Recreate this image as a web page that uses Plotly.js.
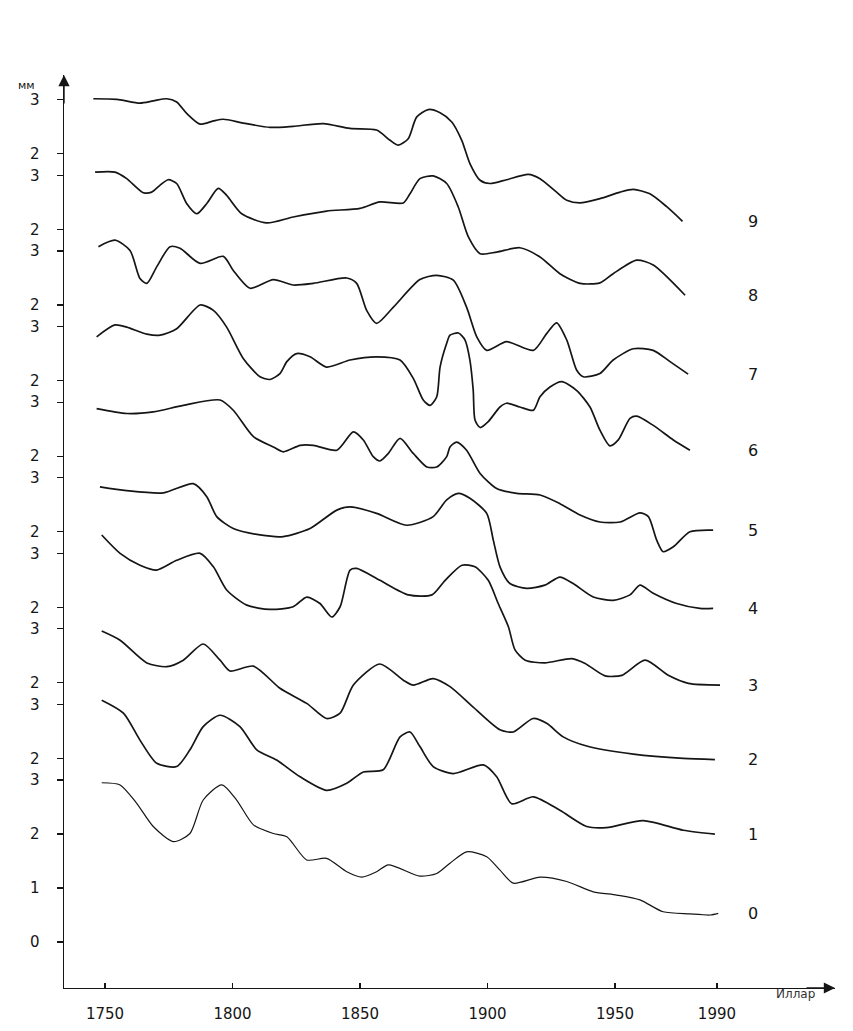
<!DOCTYPE html>
<html><head><meta charset="utf-8">
<script src="https://cdn.plot.ly/plotly-3.0.1.min.js"></script>
<style>html,body{margin:0;padding:0;background:#fff}#chart{width:853px;height:1031px}</style>
</head><body><div id="chart"></div>
<script>
// ---- data (years, values in мм, each curve in its own local scale) ----
const curveLabels = ['0','1','2','3','4','5','6','7','8','9'];
const xTickVals = [1750, 1800, 1850, 1900, 1950, 1990];
const xTickText = ['1750', '1800', '1850', '1900', '1950', '1990'];
const yTicksBottom = [0, 1, 2, 3];
const yTicksOther = [2, 3];
const yUnit = 'мм';
const xUnit = 'Иллар';

const years9 = [1745.4,1754.6,1763.7,1768.9,1774.2,1778.1,1782.0,1787.3,1792.5,1796.4,1804.2,1814.7,1823.8,1835.6,1846.1,1856.5,1861.8,1865.0,1868.9,1872.2,1876.8,1881.4,1886.0,1889.9,1893.1,1897.1,1901.0,1907.5,1916.0,1920.6,1927.1,1931.1,1936.3,1944.1,1952.0,1957.2,1963.7,1970.3,1976.5];
const vals9 = [3.02,3.01,2.94,2.98,3.02,2.96,2.75,2.55,2.61,2.64,2.57,2.49,2.51,2.56,2.47,2.44,2.25,2.16,2.28,2.68,2.82,2.76,2.59,2.25,1.82,1.51,1.45,1.52,1.62,1.54,1.29,1.14,1.09,1.17,1.29,1.34,1.26,1.02,0.75];

const years8 = [1746.1,1753.9,1758.5,1765.0,1768.3,1771.6,1774.8,1778.1,1782.0,1786.0,1789.9,1794.4,1797.7,1803.6,1813.4,1823.8,1836.9,1850.0,1857.8,1867.0,1869.6,1873.5,1878.7,1884.0,1888.5,1892.5,1897.1,1903.6,1912.7,1920.6,1928.4,1936.3,1944.1,1949.3,1958.5,1965.0,1977.5];
const vals8 = [3.06,3.06,2.94,2.68,2.69,2.82,2.92,2.85,2.48,2.29,2.48,2.76,2.63,2.29,2.12,2.23,2.34,2.39,2.51,2.49,2.66,2.94,2.99,2.85,2.42,1.86,1.55,1.58,1.66,1.49,1.18,1.00,1.01,1.18,1.43,1.34,0.78];

const years7 = [1747.4,1753.9,1759.8,1763.7,1766.4,1770.3,1775.5,1779.4,1787.3,1796.4,1800.3,1806.9,1816.0,1823.8,1831.7,1844.8,1848.7,1852.6,1856.5,1863.1,1873.5,1880.1,1886.6,1891.8,1895.8,1899.7,1907.5,1918.0,1923.2,1927.1,1931.1,1935.0,1937.6,1944.1,1949.3,1957.2,1965.0,1971.6,1978.7];
const vals7 = [3.08,3.20,3.01,2.49,2.40,2.71,3.08,3.05,2.77,2.90,2.64,2.31,2.47,2.37,2.40,2.50,2.40,1.90,1.66,1.96,2.47,2.55,2.46,1.96,1.41,1.16,1.32,1.16,1.47,1.67,1.35,0.79,0.67,0.73,0.98,1.19,1.16,0.95,0.72];

const years6 = [1746.7,1753.9,1758.5,1766.4,1771.6,1778.1,1787.3,1792.5,1797.7,1804.2,1810.8,1814.7,1818.6,1821.3,1825.2,1830.4,1836.9,1846.1,1856.5,1865.7,1870.9,1874.8,1877.5,1880.1,1881.4,1884.0,1885.3,1888.6,1891.2,1893.1,1894.4,1895.1,1897.1,1900.3,1904.9,1907.5,1912.7,1918.0,1920.6,1924.5,1929.1,1934.9,1940.2,1944.1,1948.0,1951.3,1955.9,1958.5,1965.0,1972.9,1979.4];
const vals6 = [2.81,3.03,2.99,2.86,2.84,2.96,3.40,3.30,2.99,2.41,2.07,2.02,2.13,2.35,2.50,2.44,2.25,2.38,2.44,2.38,2.04,1.64,1.54,1.70,2.25,2.69,2.84,2.88,2.75,2.38,1.82,1.27,1.13,1.24,1.51,1.58,1.51,1.45,1.70,1.88,1.98,1.82,1.51,1.08,0.79,0.90,1.30,1.34,1.17,0.90,0.71];

const years5 = [1746.7,1758.5,1768.9,1780.7,1795.1,1800.3,1808.2,1816.0,1819.9,1826.5,1831.7,1840.9,1847.4,1851.3,1855.2,1857.8,1861.1,1865.7,1870.9,1876.2,1880.1,1884.0,1885.3,1887.9,1891.8,1897.1,1903.6,1911.5,1920.6,1928.4,1936.3,1944.1,1952.0,1959.8,1963.1,1966.4,1968.9,1972.9,1979.4,1988.5];
const vals5 = [2.88,2.79,2.82,2.94,3.04,2.85,2.36,2.17,2.08,2.20,2.20,2.11,2.45,2.30,1.99,1.91,2.05,2.33,2.05,1.80,1.80,1.99,2.17,2.26,2.11,1.68,1.40,1.31,1.28,1.12,0.91,0.78,0.78,0.95,0.88,0.44,0.23,0.32,0.60,0.63];

const years4 = [1748.0,1758.5,1772.9,1784.6,1789.9,1793.8,1800.3,1810.8,1819.9,1830.4,1840.9,1846.1,1856.5,1868.3,1878.7,1884.0,1888.6,1893.1,1899.7,1902.3,1904.9,1908.8,1915.4,1922.5,1928.4,1933.6,1941.5,1949.3,1955.9,1959.8,1965.0,1974.2,1983.3,1988.5];
const vals4 = [2.83,2.76,2.72,2.89,2.65,2.28,2.06,1.94,1.91,2.06,2.40,2.46,2.34,2.12,2.28,2.59,2.71,2.62,2.34,1.84,1.35,1.04,0.95,1.01,1.16,1.04,0.79,0.73,0.83,1.01,0.86,0.67,0.58,0.58];

const years3 = [1748.7,1755.9,1763.7,1770.3,1778.1,1787.3,1792.5,1797.7,1805.6,1814.7,1823.8,1829.1,1834.3,1838.9,1842.2,1846.1,1848.7,1857.8,1869.0,1878.2,1883.4,1890.0,1895.1,1900.3,1904.2,1908.2,1910.8,1914.8,1922.5,1933.1,1938.3,1946.1,1952.7,1961.8,1970.9,1978.8,1991.2];
const vals3 = [3.34,3.00,2.78,2.69,2.87,3.00,2.75,2.32,2.04,1.96,2.01,2.19,2.07,1.82,2.01,2.69,2.72,2.50,2.23,2.23,2.50,2.78,2.75,2.50,2.07,1.64,1.21,1.02,0.97,1.05,0.96,0.73,0.74,1.02,0.74,0.59,0.56];

const years2 = [1748.7,1755.9,1766.4,1774.2,1780.7,1788.5,1795.1,1799.0,1808.2,1818.6,1829.1,1836.9,1842.2,1847.4,1857.8,1867.0,1870.9,1878.7,1885.3,1894.4,1904.9,1910.1,1917.9,1923.2,1929.7,1938.9,1957.2,1976.8,1989.2];
const vals2 = [2.96,2.79,2.37,2.30,2.42,2.72,2.42,2.22,2.31,1.90,1.62,1.34,1.44,1.96,2.35,2.05,1.96,2.08,1.93,1.55,1.13,1.09,1.34,1.25,1.00,0.83,0.68,0.60,0.58];

const years1 = [1748.7,1757.2,1763.7,1770.3,1778.1,1783.3,1788.5,1795.1,1802.9,1809.5,1817.3,1826.5,1836.9,1844.8,1851.3,1859.1,1865.7,1869.6,1873.5,1878.7,1886.6,1898.4,1903.6,1909.5,1918.0,1928.4,1938.9,1946.7,1961.1,1976.8,1989.2];
const vals1 = [3.08,2.84,2.34,1.91,1.85,2.16,2.59,2.80,2.59,2.16,1.97,1.66,1.41,1.54,1.75,1.79,2.40,2.49,2.22,1.85,1.72,1.88,1.66,1.16,1.29,1.04,0.74,0.72,0.85,0.67,0.60];

const years0 = [1748.7,1755.9,1762.4,1768.9,1776.8,1783.3,1788.5,1795.8,1801.6,1808.2,1816.0,1821.3,1829.1,1836.9,1844.8,1850.7,1856.5,1861.1,1873.5,1880.1,1885.3,1891.8,1899.7,1904.9,1910.1,1920.6,1931.1,1941.5,1950.7,1959.8,1968.9,1979.4,1987.3,1990.5];
const vals0 = [2.95,2.91,2.57,2.14,1.86,2.01,2.63,2.91,2.63,2.17,2.01,1.95,1.52,1.55,1.30,1.20,1.30,1.43,1.22,1.27,1.46,1.67,1.58,1.33,1.09,1.20,1.12,0.93,0.87,0.78,0.56,0.52,0.50,0.53];

// ---- layout / drawing ----
const allYears = [years0,years1,years2,years3,years4,years5,years6,years7,years8,years9];
const allVals  = [vals0,vals1,vals2,vals3,vals4,vals5,vals6,vals7,vals8,vals9];
const OFFSET = 1.4;        // vertical stacking step between curves (axis units)
const INK = '#151515';
const FONT = 'DejaVu Sans, Liberation Sans, sans-serif';

const traces = [];
const annotations = [];
const tickvals = [], ticktext = [];

allVals.forEach((vals, k) => {
  traces.push({
    type: 'scatter', mode: 'lines',
    x: allYears[k],
    y: vals.map(v => v + k * OFFSET),
    line: {color: INK, width: k === 0 ? 1.2 : 1.7, shape: 'spline', smoothing: 0.7},
    hoverinfo: 'skip', showlegend: false
  });
  const lastV = vals[vals.length - 1];
  annotations.push({
    x: 2004, y: lastV + k * OFFSET, xref: 'x', yref: 'y',
    text: curveLabels[k], showarrow: false,
    font: {family: FONT, size: 16, color: INK}
  });
  const levels = k === 0 ? yTicksBottom : yTicksOther;
  levels.forEach(l => { tickvals.push(l + k * OFFSET); ticktext.push(String(l)); });
});

// axis arrows and units
annotations.push({x: 0, y: 1, xref: 'paper', yref: 'paper', ax: 0, ay: 30,
  showarrow: true, arrowhead: 2, arrowsize: 1.6, arrowwidth: 1.4, arrowcolor: INK, text: ''});
annotations.push({x: 1, y: 0, xref: 'paper', yref: 'paper', ax: -30, ay: 0,
  showarrow: true, arrowhead: 2, arrowsize: 1.6, arrowwidth: 1.4, arrowcolor: INK, text: ''});
annotations.push({x: -0.062, y: 1, xref: 'paper', yref: 'paper', yshift: -2,
  text: yUnit, showarrow: false, font: {family: FONT, size: 11, color: INK}});
annotations.push({x: 0.977, y: 0, xref: 'paper', yref: 'paper', yshift: -15,
  text: xUnit, showarrow: false, font: {family: FONT, size: 12, color: '#333'}});

const layout = {
  width: 853, height: 1031,
  margin: {l: 64, r: 18, t: 75, b: 43},
  paper_bgcolor: '#fff', plot_bgcolor: '#fff',
  showlegend: false,
  xaxis: {
    range: [1733.9, 2036.3], showgrid: false, zeroline: false,
    showline: true, linecolor: INK, linewidth: 1.4,
    tickmode: 'array', tickvals: xTickVals, ticktext: xTickText,
    ticks: 'inside', ticklen: 5, tickcolor: INK, tickwidth: 1.2,
    ticklabelstandoff: 12,
    tickfont: {family: FONT, size: 15, color: INK}
  },
  yaxis: {
    range: [-0.852, 16.06], showgrid: false, zeroline: false,
    showline: true, linecolor: INK, linewidth: 1.4,
    tickmode: 'array', tickvals: tickvals, ticktext: ticktext,
    ticks: 'outside', ticklen: 6, tickcolor: INK, tickwidth: 1.2,
    ticklabelstandoff: 14,
    tickfont: {family: FONT, size: 15, color: INK}
  },
  annotations: annotations
};

Plotly.newPlot('chart', traces, layout, {staticPlot: true, displayModeBar: false});
</script>
</body></html>
